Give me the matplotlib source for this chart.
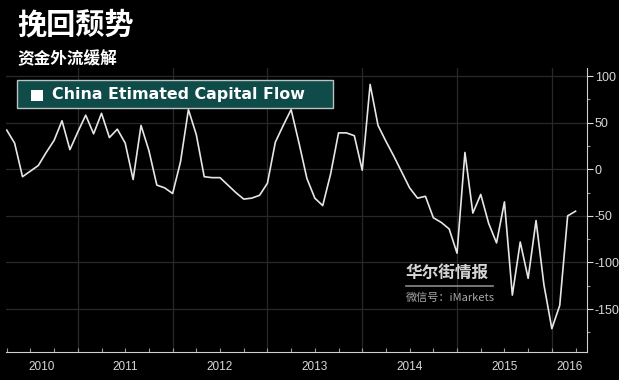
import numpy as np
import matplotlib.pyplot as plt
from matplotlib.patches import Rectangle

plt.rcParams['font.family'] = ['Liberation Sans', 'DejaVu Sans']

# monthly values, April 2010 .. April 2016
start_year = 2010
start_month = 4
flow = [42, 28, -8, -2, 4, 18, 31, 52, 21, 40, 58, 38,
        60, 34, 43, 28, -11, 47, 20, -17, -20, -26, 8, 64,
        37, -8, -9, -9, -17, -25, -32, -31, -28, -15, 29, 47,
        64, 28, -10, -31, -39, -5, 39, 39, 36, -1, 91, 47,
        30, 14, -3, -20, -31, -29, -52, -57, -64, -90, 18, -47,
        -27, -58, -79, -35, -135, -78, -117, -55, -124, -171, -146, -50,
        -45]
years = [2010, 2011, 2012, 2013, 2014, 2015, 2016]
yticks = [100, 50, 0, -50, -100, -150]

title = "挽回颓势"
subtitle = "资金外流缓解"
series_name = "China Etimated Capital Flow"

W, H = 619, 380
fig = plt.figure(figsize=(W / 100, H / 100), dpi=100, facecolor="black")

def fx(x):
    return x / W

def fy(y):
    return 1 - y / H

t = start_year + (start_month - 1) / 12 + np.arange(len(flow)) / 12
x0 = t[0] - 0.09 / 12
x1 = t[0] + 73.45 / 12

ax = fig.add_axes([fx(6), fy(352), fx(587) - fx(6), fy(68) - fy(352)])
ax.set_facecolor("black")
ax.plot(t, flow, color="#e6e6e6", lw=1.2, zorder=3)
ax.set_xlim(x0, x1)
ax.set_ylim(-196, 108.6)

# grid
for v in yticks:
    ax.axhline(v, color="#282828", lw=0.9, zorder=1)
for yr in years[1:]:
    ax.axvline(yr, color="#282828", lw=0.9, zorder=1)

# spines
for s in ["top", "left"]:
    ax.spines[s].set_visible(False)
ax.spines["right"].set_color("#cfcfcf")
ax.spines["bottom"].set_color("#cfcfcf")

ax.yaxis.tick_right()
ax.set_yticks(yticks)
ax.set_yticklabels([str(v) for v in yticks])
ax.set_yticks(np.arange(-175, 101, 25), minor=True)
ax.tick_params(axis="y", which="major", colors="#d8d8d8", length=4, width=0.8,
               labelsize=9, pad=1.5)
ax.tick_params(axis="y", which="minor", colors="#9a9a9a", length=2, width=0.8)

qt = t[0] + np.arange(0, 25) * 0.25
ax.set_xticks(qt[qt <= x1], minor=True)
ax.set_xticks([])
ax.tick_params(axis="x", which="minor", direction="in", colors="#9a9a9a",
               length=3, width=0.8)
for yr in years:
    a = max(yr, x0)
    b = min(yr + 1, x1)
    ax.text((a + b) / 2, -0.03, str(yr), transform=ax.get_xaxis_transform(),
            ha="center", va="top", color="#d8d8d8", fontsize=8.5)

# titles
fig.text(fx(17), fy(24), title, color="white", fontsize=21, fontweight="bold",
         family=["Noto Sans CJK SC"], va="center", ha="left")
fig.text(fx(17), fy(59), subtitle, color="white", fontsize=12, fontweight="bold",
         family=["Noto Sans CJK SC"], va="center", ha="left")

# legend box
fig.patches.append(Rectangle((fx(17), fy(108)), fx(333) - fx(17), fy(80) - fy(108),
                             transform=fig.transFigure, facecolor="#0e4b49",
                             edgecolor="#b8c4c4", lw=1, zorder=5))
fig.patches.append(Rectangle((fx(30.5), fy(100.5)), fx(12), fy(0) - fy(11),
                             transform=fig.transFigure, facecolor="white",
                             edgecolor="none", zorder=6))
fig.text(fx(52), fy(94.5), series_name, color="white", fontsize=11.4,
         fontweight="bold", family=["DejaVu Sans"], va="center", ha="left", zorder=7)

# watermark
fig.text(fx(447), fy(273), "华尔街情报", color="#d6d6d6", fontsize=12,
         fontweight="bold", family=["Noto Sans CJK SC"], ha="center", va="center")
fig.add_artist(plt.Line2D([fx(406), fx(493)], [fy(286), fy(286)],
                          color="#8a8a8a", lw=1.2, transform=fig.transFigure))
fig.text(fx(406), fy(297.5), "微信号：iMarkets", color="#a8a8a8", fontsize=8,
         family=["Noto Sans CJK SC", "DejaVu Sans"], ha="left", va="center")

fig.savefig("out.png", dpi=100, facecolor="black")
